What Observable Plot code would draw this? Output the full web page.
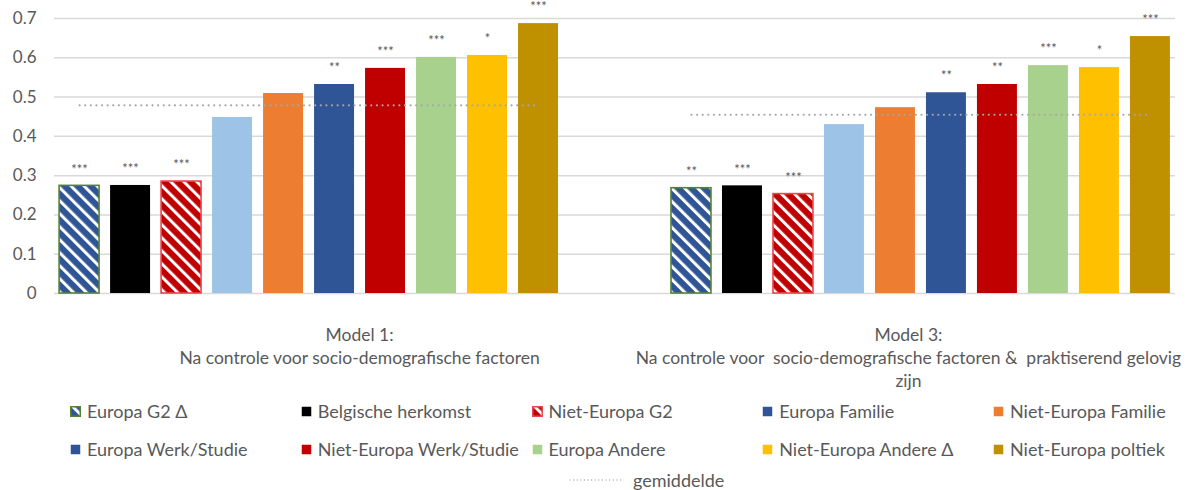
<!DOCTYPE html>
<html>
<head>
<meta charset="utf-8">
<script src="https://cdn.jsdelivr.net/npm/d3@7"></script>
<script src="https://cdn.jsdelivr.net/npm/@observablehq/plot@0.6"></script>
<style>
  body { margin: 0; background: #fff; font-family: Lato, "Open Sans", sans-serif; }
  #wrap { position: relative; width: 1189px; height: 490px; overflow: hidden; }
  #wrap > svg { position: absolute; left: 0; top: 0; }
  .leg { position: absolute; height: 22px; display: flex; align-items: center; font-size: 18px; color: #595959; white-space: nowrap; }
  .leg svg { margin-right: 6px; flex: none; }
  svg text { white-space: pre; }
</style>
</head>
<body>
<div id="wrap"></div>
<script>
// ---------- data ----------
const models = ["Model 1", "Model 3"];
const categoryLabels = [
  "Model 1:\nNa controle voor socio-demografische factoren",
  "Model 3:\nNa controle voor  socio-demografische factoren &  praktiserend gelovig\nzijn"
];
const series = [
  "Europa G2 Δ",
  "Belgische herkomst",
  "Niet-Europa G2",
  "Europa Familie",
  "Niet-Europa Familie",
  "Europa Werk/Studie",
  "Niet-Europa Werk/Studie",
  "Europa Andere",
  "Niet-Europa Andere Δ",
  "Niet-Europa poltiek"
];
const model1Values = [0.274, 0.275, 0.285, 0.448, 0.509, 0.532, 0.573, 0.601, 0.606, 0.687];
const model3Values = [0.268, 0.274, 0.253, 0.430, 0.473, 0.511, 0.532, 0.580, 0.575, 0.654];
const model1Stars = ["***", "***", "***", "", "", "**", "***", "***", "*", "***"];
const model3Stars = ["**", "***", "***", "", "", "**", "**", "***", "*", "***"];
const averages = [0.479, 0.455];
const averageLabel = "gemiddelde";
const yTicks = [0, 0.1, 0.2, 0.3, 0.4, 0.5, 0.6, 0.7];
const yTickLabels = ["0", "0.1", "0.2", "0.3", "0.4", "0.5", "0.6", "0.7"];

// ---------- styles ----------
const barFill = ["url(#hatchBlue)", "#000000", "url(#hatchRed)", "#9DC3E6", "#ED7D31",
                 "#2F5597", "#C00000", "#A9D18E", "#FFC000", "#BF9000"];
const barStroke = ["#548235", "none", "#E8474C", "none", "none", "none", "none", "none", "none", "none"];
const legendFill = ["url(#hatchBlue)", "#000000", "url(#hatchRed)", "#2F5597", "#ED7D31",
                    "#2F5597", "#C00000", "#A9D18E", "#FFC000", "#BF9000"];
const textColor = "#595959";

// ---------- build table ----------
const values = [model1Values, model3Values];
const stars = [model1Stars, model3Stars];
const keyOf = (m, s) => m + " | " + s;
const rows = [];
models.forEach((m, mi) => series.forEach((s, si) => rows.push({
  model: m, series: s, key: keyOf(m, s), value: values[mi][si], stars: stars[mi][si],
  fill: barFill[si], stroke: barStroke[si]
})));
const xDomain = [
  ...series.map(s => keyOf(models[0], s)),
  "spacer-a", "spacer-b",
  ...series.map(s => keyOf(models[1], s))
];
const avgRows = models.flatMap((m, mi) => [
  {model: m, key: keyOf(m, series[0]), avg: averages[mi]},
  {model: m, key: keyOf(m, series[series.length - 1]), avg: averages[mi]}
]);

const chart = Plot.plot({
  width: 1189,
  height: 395,
  marginLeft: 54,
  marginRight: 14,
  marginTop: 18,
  marginBottom: 102,
  style: {fontFamily: "Lato, 'Open Sans', sans-serif", fontSize: "17px", color: textColor, background: "transparent", overflow: "visible"},
  x: {domain: xDomain, paddingInner: 0.216, paddingOuter: 0.1, round: false, axis: null},
  y: {domain: [0, 0.7], ticks: yTicks, tickFormat: d => yTickLabels[yTicks.indexOf(d)], tickSize: 0, tickPadding: 18, label: null},
  color: {type: "identity"},
  marks: [
    Plot.ruleY(yTicks, {stroke: "#d9d9d9", strokeWidth: 1.5}),
    Plot.barY(rows, {x: "key", y: "value", fill: "fill", stroke: "stroke", strokeWidth: 1.6}),
    Plot.line(avgRows, {x: "key", y: "avg", z: "model", stroke: "#A6A6A6", strokeWidth: 2.2, strokeDasharray: "0.01 5.6", strokeLinecap: "round"}),
    Plot.text(rows.filter(d => d.stars), {x: "key", y: "value", text: "stars", dy: -16.5, fontSize: 13, fill: textColor}),
    Plot.text([categoryLabels[0]], {x: [keyOf(models[0], series[5])], text: d => d, frameAnchor: "bottom", lineAnchor: "top", dy: 31, dx: 25, lineHeight: 1.31, fill: textColor, fontSize: 17.5}),
    Plot.text([categoryLabels[1]], {x: [keyOf(models[1], series[4])], text: d => d, frameAnchor: "bottom", lineAnchor: "top", dy: 31, dx: 13, lineHeight: 1.31, fill: textColor, fontSize: 17.5})
  ]
});

// hatch patterns
const defs = d3.select(chart).insert("defs", ":first-child");
function hatch(id, color) {
  const p = defs.append("pattern").attr("id", id).attr("patternUnits", "userSpaceOnUse")
    .attr("width", 9.2).attr("height", 9.2).attr("patternTransform", "rotate(-45)");
  p.append("rect").attr("width", 9.2).attr("height", 9.2).attr("fill", color);
  p.append("rect").attr("width", 3).attr("height", 9.2).attr("fill", "#ffffff");
}
hatch("hatchBlue", "#2F5597");
hatch("hatchRed", "#C00000");

const wrap = document.getElementById("wrap");
wrap.appendChild(chart);

// ---------- legend ----------
const colX = i => 70 + i * 230.75;
const rowTop = [400, 438];
series.forEach((s, si) => {
  const r = Math.floor(si / 5), c = si % 5;
  const div = document.createElement("div");
  div.className = "leg";
  div.style.left = colX(c) + "px";
  div.style.top = rowTop[r] + "px";
  const st = barStroke[si] !== "none" ? barStroke[si] : "none";
  div.innerHTML = `<svg width="11" height="11"><rect x="0.75" y="0.75" width="9.5" height="9.5" fill="${legendFill[si]}" stroke="${st}" stroke-width="1.5"/></svg><span>${s}</span>`;
  wrap.appendChild(div);
});
const avgLeg = document.createElement("div");
avgLeg.className = "leg";
avgLeg.style.left = "569px";
avgLeg.style.top = "469px";
avgLeg.innerHTML = `<svg width="54" height="4" style="margin-right:10px"><line x1="1" y1="2" x2="53" y2="2" stroke="#A6A6A6" stroke-width="1.3" stroke-dasharray="0.01 3.6" stroke-linecap="round"/></svg><span>${averageLabel}</span>`;
wrap.appendChild(avgLeg);
</script>
</body>
</html>
